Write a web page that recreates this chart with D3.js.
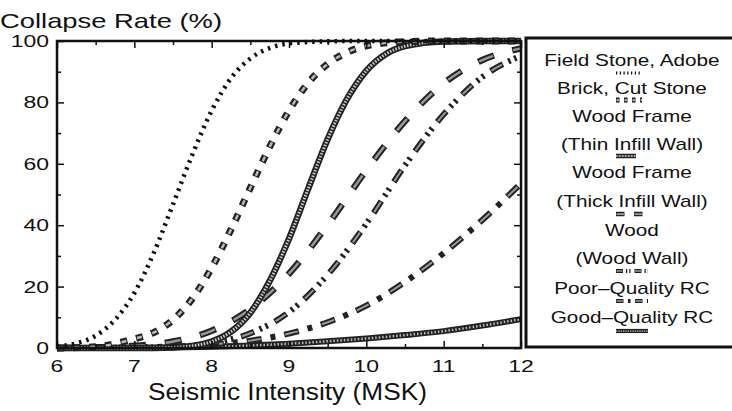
<!DOCTYPE html>
<html>
<head>
<meta charset="utf-8">
<script src="https://cdn.jsdelivr.net/npm/d3@7"></script>
<style>
  body { margin: 0; background: #fff; }
  text { font-family: "Liberation Sans", Arial, sans-serif; fill: #111; }
</style>
</head>
<body>
<svg width="732" height="411"></svg>
<script>
// intensity grid (MSK) for each curve
var xField = [6, 6.25, 6.5, 6.75, 7, 7.25, 7.5, 7.75, 8, 8.25, 8.5, 8.75, 9, 9.5, 10, 11, 12];
var yField = [0.5, 1.5, 4, 9.2, 17.9, 30.9, 46.8, 63, 77.3, 87.9, 94.3, 97.7, 99.2, 99.9, 100, 100, 100];

var xBrick = [6, 6.5, 7, 7.25, 7.5, 7.75, 8, 8.25, 8.5, 8.75, 9, 9.25, 9.5, 9.75, 10, 10.5, 11, 12];
var yBrick = [0, 0.4, 3, 5, 9.2, 16.1, 26.1, 38.6, 52.2, 65.5, 77.3, 86.4, 92.5, 96.3, 98.4, 99.8, 100, 100];

var xThin = [6, 7, 7.5, 7.75, 8, 8.25, 8.5, 8.75, 9, 9.25, 9.5, 9.75, 10, 10.25, 10.5, 11, 12];
var yThin = [0, 0, 0.2, 0.7, 2.1, 5.3, 11.5, 21.8, 35.6, 52, 68, 81.1, 90.3, 95.7, 98.3, 99.85, 100];

var xHalf = [6, 7, 7.5, 8, 8.5, 9, 9.5, 10, 10.5, 11, 11.5, 12];
var yThick = [0, 0.7, 2.1, 5.6, 12.7, 24.2, 40.1, 57.9, 73.9, 86.2, 93.8, 97.6];
var yWoodWall = [0, 0.1, 0.4, 1.6, 4.8, 11.7, 23.9, 40.5, 59.5, 76.1, 88.3, 95.2];
var yPoorRC = [0, 0.2, 0.5, 1.2, 2.4, 4.7, 8.4, 13.8, 21.5, 30.9, 41.7, 53.6];
var yGoodRC = [0, 0.1, 0.2, 0.4, 0.8, 1.4, 2.2, 3.1, 4.2, 5.5, 7.3, 9.4];

var xTicks = [6, 7, 8, 9, 10, 11, 12];
var yTicks = [0, 20, 40, 60, 80, 100];

var legendLines = ['Field Stone, Adobe', 'Brick, Cut Stone', 'Wood Frame', '(Thin Infill Wall)',
  'Wood Frame', '(Thick Infill Wall)', 'Wood', '(Wood Wall)', 'Poor\u2013Quality RC', 'Good\u2013Quality RC'];

// line looks, layered strokes to fake the hatched printing
var looks = {
  field: [{c: '#111', w: 4.5, d: '2.5,5'}],
  brick: [{c: '#222', w: 7, d: '7,9'}, {c: '#bbb', w: 2.5, d: '5,11', o: -1}],
  thin: [{c: '#222', w: 6.5}, {c: '#ccc', w: 3, d: '1.5,1.5'}],
  thick: [{c: '#222', w: 6.5, d: '17,19'}, {c: '#999', w: 2.5, d: '15,21', o: -1}],
  wood: [{c: '#222', w: 6, d: '14,6,2.5,4,2.5,8'}, {c: '#999', w: 2, d: '12,25', o: -1}],
  poor: [{c: '#222', w: 6, d: '15,9,5,9'}, {c: '#999', w: 2, d: '13,25', o: -1}],
  good: [{c: '#222', w: 6}, {c: '#bbb', w: 2.5, d: '1.5,2'}]
};

var series = [
  {key: 'good', xs: xHalf, ys: yGoodRC},
  {key: 'poor', xs: xHalf, ys: yPoorRC},
  {key: 'wood', xs: xHalf, ys: yWoodWall},
  {key: 'thick', xs: xHalf, ys: yThick},
  {key: 'thin', xs: xThin, ys: yThin},
  {key: 'brick', xs: xBrick, ys: yBrick},
  {key: 'field', xs: xField, ys: yField}
];

var svg = d3.select('svg');
var x = d3.scaleLinear().domain([6, 12]).range([57, 521]);
var y = d3.scaleLinear().domain([0, 100]).range([348, 41]);

function drawLook(g, d, look) {
  look.forEach(function(l) {
    g.append('path')
      .attr('d', d)
      .attr('fill', 'none')
      .attr('stroke', l.c)
      .attr('stroke-width', l.w)
      .attr('stroke-dasharray', l.d || null)
      .attr('stroke-dashoffset', l.o || 0);
  });
}

// widen text like the scanned figure
function stretch(sel, f) {
  sel.each(function() {
    var n = this.getComputedTextLength();
    d3.select(this).attr('textLength', n * f).attr('lengthAdjust', 'spacingAndGlyphs');
  });
}

var line = d3.line()
  .x(function(p) { return x(p[0]); })
  .y(function(p) { return y(p[1]); })
  .curve(d3.curveMonotoneX);

var curves = svg.append('g');
series.forEach(function(s) {
  var pts = s.xs.map(function(v, i) { return [v, s.ys[i]]; });
  drawLook(curves.append('g'), line(pts), looks[s.key]);
});

// frame and inward ticks
svg.append('rect')
  .attr('x', 57).attr('y', 41).attr('width', 464).attr('height', 307)
  .attr('fill', 'none').attr('stroke', '#111').attr('stroke-width', 2.5);

var minorY = d3.range(10, 100, 20);
var minorX = d3.range(6.5, 12, 1);

function ticks(axis, vals, size, tr) {
  var g = svg.append('g').attr('transform', tr)
    .call(axis.tickValues(vals).tickSize(size).tickFormat(''));
  g.select('.domain').remove();
  g.selectAll('line').attr('stroke', '#111').attr('stroke-width', 1.5);
}
ticks(d3.axisLeft(y), yTicks, -7, 'translate(57,0)');
ticks(d3.axisLeft(y), minorY, -4, 'translate(57,0)');
ticks(d3.axisRight(y), yTicks, -7, 'translate(521,0)');
ticks(d3.axisRight(y), minorY, -4, 'translate(521,0)');
ticks(d3.axisBottom(x), xTicks, -7, 'translate(0,348)');
ticks(d3.axisBottom(x), minorX, -4, 'translate(0,348)');
ticks(d3.axisTop(x), xTicks, -7, 'translate(0,41)');
ticks(d3.axisTop(x), minorX, -4, 'translate(0,41)');

// tick labels
svg.append('g').selectAll('text').data(yTicks).join('text')
  .attr('x', 49).attr('y', function(d) { return y(d) + 6; })
  .attr('text-anchor', 'end').style('font-size', '17px')
  .text(function(d) { return d; })
  .call(stretch, 1.35);

svg.append('g').selectAll('text').data(xTicks).join('text')
  .attr('x', function(d) { return x(d); }).attr('y', 372)
  .attr('text-anchor', 'middle').style('font-size', '17px')
  .text(function(d) { return d; })
  .call(stretch, 1.35);

svg.append('text').attr('x', 0).attr('y', 28)
  .style('font-size', '21px').text('Collapse Rate (%)')
  .attr('textLength', 222).attr('lengthAdjust', 'spacingAndGlyphs');

svg.append('text').attr('x', 148).attr('y', 400)
  .style('font-size', '23px').text('Seismic Intensity (MSK)')
  .attr('textLength', 279).attr('lengthAdjust', 'spacingAndGlyphs');

// legend
var leg = svg.append('g');
leg.append('rect')
  .attr('x', 526).attr('y', 38).attr('width', 300).attr('height', 309)
  .attr('fill', '#fff').attr('stroke', '#111').attr('stroke-width', 3);

var legY = [66, 94, 122, 150, 178, 207, 236, 264, 294, 323];
leg.selectAll('text').data(legendLines).join('text')
  .attr('x', 632).attr('y', function(d, i) { return legY[i]; })
  .attr('text-anchor', 'middle').style('font-size', '17px')
  .text(function(d) { return d; })
  .call(stretch, 1.22);

var swatches = [
  {key: 'field', y: 73, w: 24},
  {key: 'brick', y: 100, w: 26},
  {key: 'thin', y: 156, w: 20},
  {key: 'thick', y: 214, w: 30},
  {key: 'wood', y: 271, w: 32},
  {key: 'poor', y: 301, w: 32},
  {key: 'good', y: 331, w: 32}
];
swatches.forEach(function(s) {
  var look = looks[s.key].map(function(l) {
    return {c: l.c, w: l.w * 0.7, d: l.d ? l.d.split(',').map(function(v) { return v * 0.5; }).join(',') : null, o: (l.o || 0) * 0.5};
  });
  drawLook(leg.append('g'), 'M616,' + s.y + 'h' + s.w, look);
});
</script>
</body>
</html>
